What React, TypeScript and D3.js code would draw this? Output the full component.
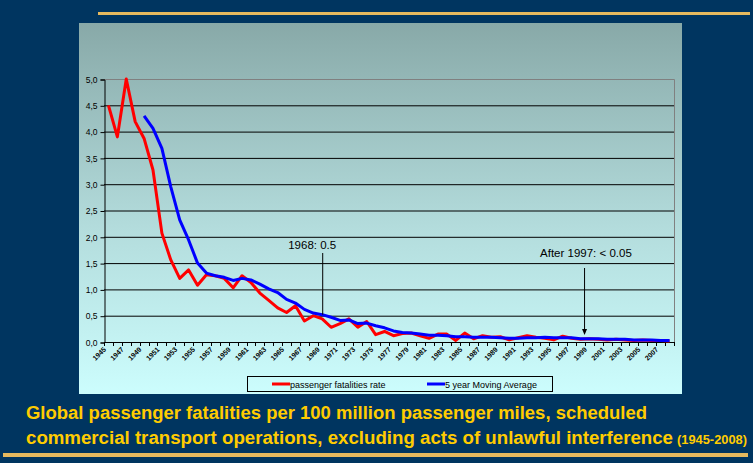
import { useEffect, useRef } from "react";
import * as d3 from "d3";

// years 1945 - 2008
const years: number[] = d3.range(1945, 2009);

// passenger fatalities per 100 million passenger miles
const fatalityRate: number[] = [
  4.5, 3.9, 5.0, 4.19, 3.87, 3.27, 2.07, 1.56, 1.21, 1.37,
  1.08, 1.28, 1.26, 1.21, 1.03, 1.26, 1.13, 0.93, 0.79, 0.65,
  0.56, 0.69, 0.4, 0.5, 0.44, 0.28, 0.35, 0.44, 0.28, 0.39,
  0.14, 0.2, 0.12, 0.16, 0.17, 0.12, 0.07, 0.15, 0.15, 0.03,
  0.17, 0.06, 0.12, 0.09, 0.1, 0.04, 0.08, 0.12, 0.09, 0.07,
  0.04, 0.11, 0.07, 0.05, 0.06, 0.05, 0.04, 0.05, 0.04, 0.03,
  0.04, 0.03, 0.03, 0.02,
];

// 5 year moving average, first value in 1949
const movingAvgYears: number[] = d3.range(1949, 2009);
const movingAvg: number[] = [
  4.3, 4.06, 3.68, 2.95, 2.32, 1.94, 1.5, 1.31, 1.26, 1.23,
  1.17, 1.21, 1.18, 1.1, 1.01, 0.94, 0.81, 0.74, 0.62, 0.55,
  0.52, 0.47, 0.41, 0.42, 0.35, 0.36, 0.31, 0.27, 0.21, 0.18,
  0.17, 0.15, 0.13, 0.13, 0.12, 0.1, 0.1, 0.09, 0.09, 0.09,
  0.08, 0.07, 0.07, 0.08, 0.08, 0.09, 0.08, 0.08, 0.08, 0.06,
  0.06, 0.06, 0.05, 0.05, 0.05, 0.04, 0.04, 0.04, 0.03, 0.03,
];

const yTicks: number[] = [0, 0.5, 1, 1.5, 2, 2.5, 3, 3.5, 4, 4.5, 5];
const xLabelYears: number[] = d3.range(1945, 2009, 2);

const seriesNames = ["passenger fatalities rate", "5 year Moving Average"];
const seriesColors = ["#ff0000", "#0000ff"];

const App = () => {
  const ref = useRef<SVGSVGElement>(null);

  useEffect(() => {
    const svg = d3.select(ref.current);
    svg.selectAll("*").remove();

    const W = 753;
    const H = 463;
    const font = "Arial, 'Liberation Sans', sans-serif";

    svg.attr("width", W).attr("height", H);

    // background
    svg.append("rect").attr("width", W).attr("height", H).attr("fill", "#003560");

    svg.append("rect").attr("x", 98).attr("y", 12).attr("width", 652).attr("height", 3).attr("fill", "#e6b95e");
    svg.append("rect").attr("x", 3).attr("y", 453).attr("width", 745).attr("height", 4).attr("fill", "#e6b95e");

    // chart panel with gradient
    const defs = svg.append("defs");
    const grad = defs.append("linearGradient").attr("id", "panelGrad").attr("x1", 0).attr("y1", 0).attr("x2", 0).attr("y2", 1);
    grad.append("stop").attr("offset", "0%").attr("stop-color", "#88a9a8");
    grad.append("stop").attr("offset", "55%").attr("stop-color", "#b3dcdc");
    grad.append("stop").attr("offset", "100%").attr("stop-color", "#ccfdfd");

    svg.append("rect").attr("x", 79).attr("y", 23).attr("width", 603).attr("height", 371).attr("fill", "url(#panelGrad)");

    const left = 104, right = 674, top = 79, bottom = 342;

    const x = d3.scaleLinear().domain([1944.5, 2008.5]).range([left, right]);
    const y = d3.scaleLinear().domain([0, 5]).range([bottom, top]);

    // gridlines
    svg.append("g")
      .selectAll("line")
      .data(yTicks.filter((t) => t > 0 && t < 5))
      .join("line")
      .attr("x1", left).attr("x2", right)
      .attr("y1", (d) => y(d) + 0.5).attr("y2", (d) => y(d) + 0.5)
      .attr("stroke", "#000").attr("stroke-width", 1);

    // plot border top + right
    svg.append("path")
      .attr("d", `M${left},${top + 0.5}H${right + 0.5}V${bottom}`)
      .attr("fill", "none").attr("stroke", "#808080").attr("stroke-width", 1);

    // y axis
    const yAxis = d3.axisLeft(y).tickValues(yTicks).tickSize(4).tickPadding(3)
      .tickFormat((d) => d3.format(".1f")(d as number).replace(".", ","));
    const gy = svg.append("g").attr("transform", `translate(${left + 0.5},0.5)`).call(yAxis);
    gy.select(".domain").attr("stroke", "#000");
    gy.selectAll("text").attr("font-family", font).attr("font-size", 8.5).attr("fill", "#000");

    // x axis with ticks between categories
    svg.append("line").attr("x1", left).attr("x2", right + 1).attr("y1", bottom + 0.5).attr("y2", bottom + 0.5).attr("stroke", "#000");
    svg.append("g")
      .selectAll("line")
      .data(d3.range(1944.5, 2009.5, 1))
      .join("line")
      .attr("x1", (d) => Math.round(x(d)) + 0.5).attr("x2", (d) => Math.round(x(d)) + 0.5)
      .attr("y1", bottom).attr("y2", bottom + 4)
      .attr("stroke", "#000");

    svg.append("g")
      .selectAll("text")
      .data(xLabelYears)
      .join("text")
      .attr("transform", (d) => `translate(${x(d) - 2},${bottom + 8}) rotate(-45)`)
      .attr("text-anchor", "end")
      .attr("font-family", font)
      .attr("font-size", 7)
      .attr("font-weight", "bold")
      .attr("fill", "#000")
      .text((d) => d);

    // lines
    const line = d3.line<[number, number]>().x((d) => x(d[0])).y((d) => y(d[1]));
    svg.append("path")
      .datum(years.map((yr, i) => [yr, fatalityRate[i]] as [number, number]))
      .attr("fill", "none").attr("stroke", seriesColors[0]).attr("stroke-width", 3)
      .attr("stroke-linejoin", "round").attr("d", line);
    svg.append("path")
      .datum(movingAvgYears.map((yr, i) => [yr, movingAvg[i]] as [number, number]))
      .attr("fill", "none").attr("stroke", seriesColors[1]).attr("stroke-width", 3)
      .attr("stroke-linejoin", "round").attr("d", line);

    // annotations
    svg.append("text").attr("x", x(1969) - 34).attr("y", 249)
      .attr("font-family", font).attr("font-size", 11.5).attr("fill", "#000").text("1968: 0.5");
    svg.append("line").attr("x1", x(1969) + 0.5).attr("x2", x(1969) + 0.5)
      .attr("y1", 253).attr("y2", y(0.52)).attr("stroke", "#000");

    svg.append("text").attr("x", x(1998.4) - 44).attr("y", 257)
      .attr("font-family", font).attr("font-size", 11.5).attr("fill", "#000").text("After 1997: < 0.05");
    const ax = x(1998.4) + 0.5;
    svg.append("line").attr("x1", ax).attr("x2", ax).attr("y1", 268).attr("y2", 330).attr("stroke", "#000");
    svg.append("path").attr("d", `M${ax - 2.5},${329}L${ax + 2.5},${329}L${ax},${335}Z`).attr("fill", "#000");

    // legend
    svg.append("rect").attr("x", 247.5).attr("y", 376.5).attr("width", 305).attr("height", 15)
      .attr("fill", "none").attr("stroke", "#000");
    const lg = svg.append("g");
    const legendX = [272, 427];
    seriesNames.forEach((name, i) => {
      lg.append("line").attr("x1", legendX[i]).attr("x2", legendX[i] + 18)
        .attr("y1", 384).attr("y2", 384).attr("stroke", seriesColors[i]).attr("stroke-width", 3);
      lg.append("text").attr("x", legendX[i] + 18).attr("y", 387.5)
        .attr("font-family", font).attr("font-size", 9).attr("fill", "#000").text(name);
    });

    // title
    const title = svg.append("g").attr("font-family", font).attr("font-weight", "bold").attr("fill", "#ffcc00");
    title.append("text").attr("x", 26).attr("y", 419).attr("font-size", 17.5)
      .attr("textLength", 621).attr("lengthAdjust", "spacingAndGlyphs")
      .text("Global passenger fatalities per 100 million passenger miles, scheduled");
    title.append("text").attr("x", 26).attr("y", 444).attr("font-size", 17.5)
      .attr("textLength", 647).attr("lengthAdjust", "spacingAndGlyphs")
      .text("commercial transport operations, excluding acts of unlawful interference");
    title.append("text").attr("x", 677).attr("y", 444).attr("font-size", 12.5)
      .attr("textLength", 70).attr("lengthAdjust", "spacingAndGlyphs")
      .text("(1945-2008)");
  }, []);

  return <svg ref={ref} style={{ position: "absolute", left: 0, top: 0, display: "block" }}></svg>;
};

export default App;
